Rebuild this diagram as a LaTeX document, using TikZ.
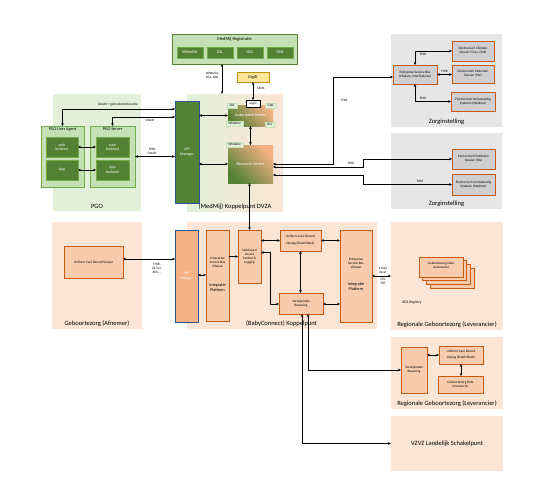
\documentclass[tikz,border=0pt]{standalone}
\usepackage{fontspec}
\setmainfont{Carlito}
\usetikzlibrary{arrows.meta,calc}
\definecolor{dgreen}{HTML}{548235}
\definecolor{mgreen}{HTML}{70AD47}
\definecolor{lgreen}{HTML}{C5E0B4}
\definecolor{vlgreen}{HTML}{E2F0D9}
\definecolor{peach}{HTML}{FBE5D6}
\definecolor{orangeb}{HTML}{F8CBAD}
\definecolor{orangem}{HTML}{F4B183}
\definecolor{orangeline}{HTML}{C55A11}
\definecolor{greyreg}{HTML}{E7E6E6}
\definecolor{greybox}{HTML}{D0CECE}
\definecolor{bluel}{HTML}{2F5597}
\definecolor{yel}{HTML}{FFE699}
\definecolor{gold}{HTML}{BF9000}
\newcommand\bx[7]{%
  \pgfmathsetmacro\bxa{(#2+#4)/2}%
  \pgfmathsetmacro\bxb{(#3+#5)/2}%
  \pgfmathsetmacro\bxc{#4-#2}%
  \pgfmathsetmacro\bxd{#5-#3}%
  \node[inner sep=0pt, outer sep=0pt, minimum width=\bxc pt, minimum height=\bxd pt, #6] (#1) at (\bxa,\bxb) {#7};}
\tikzset{
 rlab/.style={font=\fontsize{6.5}{7.5}\selectfont, anchor=base, inner sep=0pt},
 tinyf/.style={font=\fontsize{3.4}{4.1}\selectfont},
 smf/.style={font=\fontsize{4.2}{5}\selectfont},
 dgbox/.style={fill=dgreen, draw=mgreen, line width=0.6pt, text=white, align=center, smf},
 lgbox/.style={fill=lgreen, draw=mgreen, line width=0.6pt},
 obox/.style={fill=orangeb, draw=orangeline, line width=0.7pt, align=center, tinyf},
 gbox/.style={fill=greybox, draw=orangeline, line width=0.8pt, align=center, tinyf},
 apibox/.style={draw=bluel, line width=0.7pt, text=white, align=center, font=\fontsize{3.8}{4.6}\selectfont},
 tagbox/.style={fill=vlgreen, draw=lgreen, line width=0.3pt, tinyf},
 shbox/.style={bottom color=dgreen, top color=orangem, shading angle=-45, text=white, smf},
 conn/.style={draw=black, line width=0.75pt, arrows={Stealth[length=3pt,width=2.6pt]-Stealth[length=3pt,width=2.6pt]}},
 connone/.style={draw=black, line width=0.75pt, arrows={-Stealth[length=3pt,width=2.6pt]}},
 elab/.style={tinyf, inner sep=0.8pt, align=center},
}
\begin{document}
\begin{tikzpicture}[x=1pt,y=-1pt]
\fill[white] (0,0) rectangle (533,485);
\useasboundingbox (0,0) rectangle (533,485);

% ---------- regions ----------
\bx{medmij}{172}{34}{297}{64}{fill=lgreen, draw=dgreen, line width=0.7pt}{}
\node[font=\fontsize{4.5}{5}\selectfont] (medmijt) at (234.5,39.5) {MedMij Registratie};
\bx{pgo}{53}{94}{141}{211}{fill=vlgreen}{}
\node[rlab] (pgol) at ($(pgo.south)+(0,-3)$) {PGO};
\bx{dvza}{187}{94}{283}{211}{left color=vlgreen, right color=peach}{}
\node[rlab] (dvzal) at ($(dvza.south)+(0,-3)$) {(MedMij) Koppelpunt DVZA};
\bx{zorga}{391}{34}{502}{127}{fill=greyreg}{}
\node[rlab] (zorgal) at ($(zorga.south)+(0,-4)$) {Zorginstelling};
\bx{zorgb}{391}{133}{502}{209}{fill=greyreg}{}
\node[rlab] (zorgbl) at ($(zorgb.south)+(0,-4)$) {Zorginstelling};
\bx{geb}{52}{222}{142}{329}{fill=peach}{}
\node[rlab] (gebl) at ($(geb.south)+(0,-3.5)$) {Geboortezorg (Afnemer)};
\bx{baby}{187}{222}{377}{329}{fill=peach}{}
\node[rlab] (babyl) at ($(baby.south)+(-0.5,-3.5)$) {(BabyConnect) Koppelpunt};
\bx{rega}{391}{222}{503}{330}{fill=peach}{}
\node[rlab] (regal) at ($(rega.south)+(0,-4)$) {Regionale Geboortezorg (Leverancier)};
\bx{regb}{391}{337}{503}{409}{fill=peach}{}
\node[rlab] (regbl) at ($(regb.south)+(0,-4)$) {Regionale Geboortezorg (Leverancier)};
\bx{vzvz}{391}{416}{503}{471}{fill=peach, font=\fontsize{6.5}{7.5}\selectfont}{VZVZ Landelijk Schakelpunt}

% ---------- MedMij ----------
\bx{wl}{177}{47}{203}{58}{dgbox}{Whitelist}
\bx{zal}{207}{47}{233}{58}{dgbox}{ZAL}
\bx{ocl}{237}{47}{263}{58}{dgbox}{OCL}
\bx{gnl}{267}{47}{293}{58}{dgbox}{GNL}
\bx{digid}{237}{72}{269}{82}{fill=yel, draw=gold, line width=0.6pt, smf}{DigiD}

% ---------- DVZA ----------
\bx{apia}{175}{101}{199}{203}{apibox, fill=dgreen}{API\\Manager}
\bx{auth}{228}{105}{273}{126}{shbox}{Autorisatie Server}
\bx{login}{246}{100}{260}{107}{fill=white, draw=black, line width=0.8pt, tinyf}{Login}
\bx{zalt}{227}{103}{237}{108}{tagbox}{ZAL}
\bx{gnlt}{265}{103}{276}{108}{tagbox}{GNL}
\bx{wlt}{226}{121}{243}{126}{tagbox}{Whitelist}
\bx{oclt}{265}{122}{274}{127}{tagbox}{OCL}
\bx{res}{228}{145}{273}{183}{shbox}{Resource Server}
\bx{wlr}{226}{142}{243}{147}{tagbox}{Whitelist}

% ---------- PGO ----------
\bx{ua}{41}{126}{84}{187}{lgbox}{}
\node[smf] (uat) at (62.5,129.5) {PGO User Agent};
\bx{wb}{46}{137}{78}{157}{dgbox, font=\fontsize{3.8}{4.6}\selectfont}{web\\browser}
\bx{app}{46}{160}{78}{180}{dgbox, font=\fontsize{3.8}{4.6}\selectfont}{App}
\bx{ps}{90}{126}{135}{187}{lgbox}{}
\node[smf] (pst) at (112.5,129.5) {PGO Server};
\bx{wbe}{96}{137}{129}{157}{dgbox, font=\fontsize{3.8}{4.6}\selectfont}{web\\backend}
\bx{abe}{96}{160}{129}{180}{dgbox, font=\fontsize{3.8}{4.6}\selectfont}{App\\backend}

% ---------- Zorginstelling ----------
\bx{esb}{393}{65}{437}{84}{gbox}{Enterprise Service Bus\\(Vitalum, InterSystems)}
\bx{ecd}{452}{41}{494}{61}{gbox}{Electronisch Cli\"enten\\Dossier (Cura, ONS)}
\bx{epd}{452}{65}{494}{83}{gbox}{Electronisch Patienten\\Dossier (Hix)}
\bx{evs}{451}{92}{495}{111}{gbox}{Electronisch Verloskundig\\Systeem (Medimo)}
\bx{epdb}{452}{149}{495}{169}{gbox}{Electronisch Patienten\\Dossier (Hix)}
\bx{evsb}{452}{174}{495}{195}{gbox}{Electronisch Verloskundig\\Systeem (Medimo)}

% ---------- Geboortezorg / BabyConnect ----------
\bx{ucrv}{64}{246}{123}{278}{obox}{Uniform Care Record Viewer}
\bx{apib}{175}{230}{198}{322}{apibox, fill=orangem}{API\\Manager}
\bx{esba}{206}{230}{229}{321}{obox}{}
\node[tinyf, align=center] (esbat) at (217.5,262) {Enterprise\\Service Bus\\Vitalum};
\node[smf, align=center] (esbai) at (217.5,287.5) {Integratie\\Platform};
\bx{gk}{238}{230}{261}{283}{obox}{SafeGuard\\Access\\Control \&\\Logging}
\bx{ucr}{280}{230}{321}{251}{obox}{Uniform Care Record\\[3pt]Opslag (ElasticStack)}
\bx{esbb}{340}{230}{372}{322}{obox}{}
\node[tinyf, align=center] (esbbt) at (356,263) {Enterprise\\Service Bus\\Vitalum};
\node[smf, align=center] (esbbi) at (356,287) {Integratie\\Platform};
\bx{vb}{279}{293}{323}{314}{obox}{Verwijsindex\\Bewaring}

% ---------- Regionale ----------
\bx{stkc}{430}{268}{474}{288}{obox}{}
\bx{stkb}{426.3}{264.3}{470.3}{284.3}{obox}{}
\bx{stka}{422.7}{260.7}{466.7}{280.7}{obox}{}
\bx{stk}{419}{257}{463}{277}{obox}{}
\node[tinyf, align=center] (stkt) at (441,265.5) {Geboortezorg Data\\Leverancier};
\node[font=\fontsize{3.8}{4.6}\selectfont] (xds) at (412,303) {XDS Registry};
\bx{vbb}{401}{347}{427}{393}{obox}{Verwijsindex\\Bewaring}
\bx{ucrb}{439}{346}{483}{364}{obox}{Uniform Care Record\\[2pt]Opslag (ElasticStack)}
\bx{gdlb}{438}{376}{483}{393}{obox}{Geboortezorg Data\\Leverancier}

% ---------- connectors ----------
\coordinate (xmm) at (222,0);
\draw[conn] (xmm |- medmij.south) -- (xmm |- dvza.north);
\node[elab, anchor=east] (lwl) at (220,75.5) {Whitelist,\\OCL, GNL};
\draw[conn] (digid.south) -- (login.north);
\node[elab, anchor=west] (lsaml) at (256,88) {SAML};
\draw[conn] (auth.west) -- (auth.west -| apia.east);
\draw[conn] (auth.south) -- (res.north);
\draw[conn] (res.west) -- (res.west -| apia.east);

\draw[conn] (res.east) -- ++(60,0) |- ($(esb.west)+(0,2.5)$);
\node[elab, anchor=west] (lf1) at (340,100) {FHIR};
\draw[conn] ($(res.east)+(0,3)$) -- ++(90,0) |- (epdb.west);
\node[elab, anchor=south] (lf2) at (351,165) {FHIR};
\draw[conn] ($(res.east)+(0,11)$) -- ++(90,0) |- (evsb.west);
\node[elab, anchor=south] (lf3) at (420,183.5) {FHIR};

\draw[conn] (esb.north) |- (ecd.west);
\node[elab, anchor=north] (lf4) at (423,52.5) {FHIR};
\draw[conn] (esb.east) -- (esb.east -| epd.west);
\node[elab, anchor=south] (lf5) at (444.5,73.5) {FHIR};
\draw[conn] (esb.south) |- (evs.west);
\node[elab, anchor=south] (lf6) at (423,100.5) {FHIR};

\draw[conn] (wb.east) -- (wbe.west);
\draw[conn] (app.east) -- (abe.west);
\draw[conn] (ua.north) |- ($(apia.north west)+(0,8)$);
\node[elab, anchor=south] (loauthg) at (118,107.5) {OAuth + gebruikersinteractie};
\draw[conn] (ps.north) |- ($(apia.north west)+(0,16)$);
\node[elab, anchor=north] (loauth) at (150,118) {OAuth};
\draw[conn] (ps.east) -- (ps.east -| apia.west);
\node[elab, anchor=south] (lfo) at (152,155.5) {FHIR\\OAuth};

\coordinate (pv) at ($(ucrv.east)+(0,-3)$);
\draw[conn] (pv) -- (pv -| apib.west);
\node[elab, anchor=north] (lhl7) at (157,262.5) {FHIR,\\HL7v3,\\XDS,...};
\coordinate (pa) at ($(apib.east)+(0,-1)$);
\draw[conn] (pa) -- (pa -| esba.west);
\draw[connone] (gk.west -| esba.east) -- (gk.west);
\draw[conn] (gk.north) -- (gk.north |- res.south);
\draw[conn] (ucr.west) -- (ucr.west -| gk.east);
\draw[conn] (ucr.east) -- (ucr.east -| esbb.west);
\draw[conn] (ucr.south) -- (ucr.south |- vb.north);
\draw[conn] ($(gk.east)+(0,-4)$) -- ++(9,0) |- ($(vb.west)+(0,0.5)$);
\coordinate (pb) at ($(vb.east)+(0,0.5)$);
\draw[conn] (pb) -- (pb -| esbb.west);
\draw[conn] (esbb.east) -- (esbb.east -| rega.west);
\node[elab, anchor=south] (lmail) at (383,274.5) {Email\\Excel};
\node[elab, anchor=north] (lcsv) at (383,277.5) {CSV\\TXT};
\draw[conn] ($(vb.south)+(7,0)$) |- (vbb.west);
\draw[conn] ($(vb.south)+(1,0)$) |- (vzvz.west);

\draw[conn] (ucrb.west) -- (ucrb.west -| vbb.east);
\draw[conn] (ucrb.south) -- (ucrb.south |- gdlb.north);
\end{tikzpicture}
\end{document}
